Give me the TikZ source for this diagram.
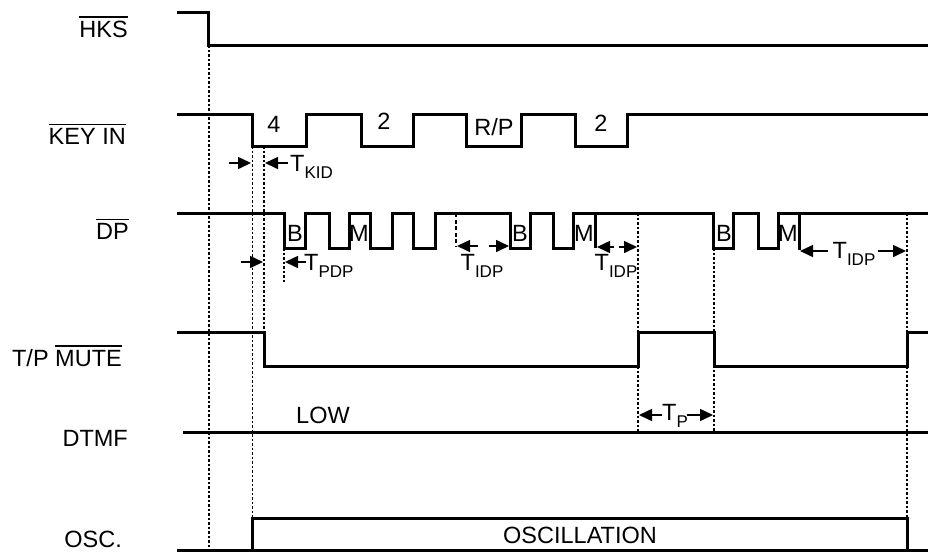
\documentclass[tikz,border=0pt]{standalone}
\usepackage{fontspec}
\setmainfont{Liberation Sans}
\usetikzlibrary{arrows.meta}
\newcommand{\tsub}[1]{T\raisebox{-0.32em}{\fontsize{17}{17}\selectfont #1}}
\newcommand{\ovl}[1]{\setbox0\hbox{#1}\rlap{\rule[\dimexpr\ht0+3.5pt\relax]{\wd0}{1.3pt}}\box0}
\begin{document}
\begin{tikzpicture}[x=1pt,y=-1pt,line join=miter,
		sig/.style={line width=3pt},
		guide/.style={line width=1.4pt,dash pattern=on 2.5pt off 2pt},
		tarrow/.style={line width=1.6pt,-{Triangle[length=13pt,width=12pt]}},
		every node/.style={font=\fontsize{23.5}{25}\selectfont,inner sep=0pt}]
	\useasboundingbox (0,0) rectangle (928,552);
	% signal names
	\node[anchor=east] (nHKS) at (128,27) {\ovl{HKS}};
	\node[anchor=east] (nKEY) at (126,134) {\ovl{KEY IN}};
	\node[anchor=east] (nDP) at (129,229) {\ovl{DP}};
	\node[anchor=east] (nMUTE) at (122,356) {T/P \ovl{MUTE}};
	\node[anchor=east] (nDTMF) at (128,438) {DTMF};
	\node[anchor=east] (nOSC) at (122,539) {OSC.};
	% guide lines
	\foreach \x/\ya/\yb in {209/45/550,252.5/146/518,264/146/332,284/248/283,638/213/432,714/248/432,907/213/518}
	\draw[guide] (\x,\ya) -- (\x,\yb);
	\draw[line width=2.2pt,dash pattern=on 4pt off 2.5pt] (456,213) -- (456,247);
	% waveforms
	\draw[sig] (177,12) -| (208,45) -- (928,45);
	\draw[sig] (177,114) -| (252.5,146) -| (306,114) -| (361,146) -| (413,114) -| (466,146) -| (521,114) -| (575,146) -| (627,114) -- (928,114);
	\draw[sig] (177,213) -| (284,248) -| (305,213) -| (329,248) -| (349,213) -| (370,248) -| (392,213) -| (413,248) -| (435,213)
		-| (510,248) -| (530,213) -| (553,248) -| (573,213) -| (713,248) -| (733,213) -| (758,248) -| (778,213) -- (928,213);
	\draw[sig] (595,213) -- (595,248) (799,213) -- (799,250);
	\draw[sig] (177,332) -| (264,366) -| (638,332) -| (714,366) -| (907,332) -- (928,332);
	\draw[sig] (183,432) -- (928,432);
	\draw[sig] (177,550) -- (928,550) (252.5,550) |- (907,518) -- (907,550);
	% key and pulse labels
	\foreach \x/\y/\t [count=\i] in {274/124/4,384/121/2,494/127/R\slash P,601/123/2}
	\node (k\i) at (\x,\y) {\t};
	\foreach \x/\t [count=\i] in {295/B,359/M,520/B,584/M,724/B,788/M}
	\node (p\i) at (\x,233) {\t};
	\node (low) at (323,415) {LOW};
	\node (osc) at (580,535) {OSCILLATION};
	% timing marks
	\draw[tarrow] (229,163) -- (251,163);
	\draw[tarrow] (288,163) -- (265,163);
	\node[anchor=west] (tkid) at (290,167) {\tsub{KID}};
	\draw[tarrow] (241,262) -- (263,262);
	\draw[tarrow] (306,262) -- (285,262);
	\node[anchor=west] (tpdp) at (304,266) {\tsub{PDP}};
	\draw[tarrow] (478,246) -- (457,246);
	\draw[tarrow] (489,246) -- (509,246);
	\node (tidpa) at (482,266) {\tsub{IDP}};
	\draw[tarrow] (614,247) -- (597,247);
	\draw[tarrow] (619,247) -- (637,247);
	\node (tidpb) at (616,266) {\tsub{IDP}};
	\draw[tarrow] (828,251) -- (800,251);
	\draw[tarrow] (878,251) -- (906,251);
	\node (tidpc) at (854,254) {\tsub{IDP}};
	\draw[tarrow] (662,415) -- (639,415);
	\draw[tarrow] (687,415) -- (713,415);
	\node (tp) at (675,416) {\tsub{P}};
\end{tikzpicture}
\end{document}
